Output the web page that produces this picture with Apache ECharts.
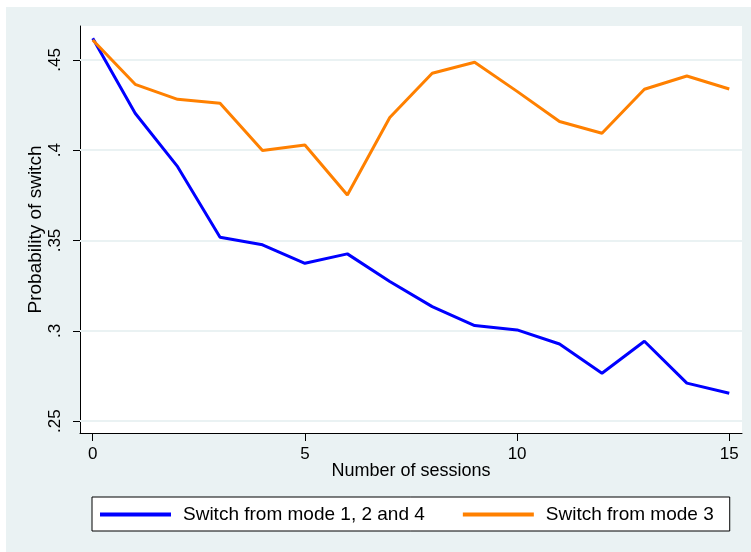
<!DOCTYPE html>
<html>
<head>
<meta charset="utf-8">
<script src="https://cdn.jsdelivr.net/npm/echarts@6/dist/echarts.min.js"></script>
<style>
  html, body { margin: 0; padding: 0; background: #fff; }
  #chart { width: 751px; height: 552px; }
</style>
</head>
<body>
<div id="chart"></div>
<script>
// sessions on the x axis
const sessions = [0, 1, 2, 3, 4, 5, 6, 7, 8, 9, 10, 11, 12, 13, 14, 15]
// probability of switch
const fromMode124 = [0.462, 0.4205, 0.3909, 0.3518, 0.3476, 0.3374, 0.3426, 0.3273,
  0.3134, 0.3029, 0.3005, 0.2927, 0.2765, 0.2942, 0.271, 0.2654]
const fromMode3 = [0.461, 0.4365, 0.4282, 0.426, 0.3998, 0.4029, 0.3752, 0.4181,
  0.4426, 0.4487, 0.4326, 0.4159, 0.4094, 0.4338, 0.4411, 0.4339]
const xTicks = [0, 5, 10, 15]
const yTicks = [0.25, 0.3, 0.35, 0.4, 0.45]

const font = 'Liberation Sans, Arial, sans-serif'
const bg = '#EAF2F3'

const pairs = (ys) => sessions.map((s, i) => [s, ys[i]])
const fmtY = (v) => String(Math.round(v * 100) / 100).replace(/^0/, '')

const chart = echarts.init(document.getElementById('chart'))

const options = {
  backgroundColor: bg,
  animation: false,
  textStyle: { fontFamily: font, color: '#000' },
  graphic: [
    // thin white margin on top and left
    { type: 'rect', left: 0, top: 0, shape: { width: 751, height: 7 }, style: { fill: '#fff' } },
    { type: 'rect', left: 0, top: 0, shape: { width: 6, height: 552 }, style: { fill: '#fff' } }
  ],
  grid: {
    left: 80,
    top: 26,
    right: 9,
    bottom: 119,
    show: true,
    backgroundColor: '#fff',
    borderWidth: 0
  },
  legend: {
    left: 92,
    top: 497,
    orient: 'horizontal',
    backgroundColor: '#fff',
    borderColor: '#000',
    borderWidth: 1,
    borderRadius: 0,
    padding: [8, 16, 7, 8],
    itemGap: 38,
    itemWidth: 71,
    itemHeight: 4,
    icon: 'rect',
    textStyle: { fontFamily: font, fontSize: 19, color: '#000', padding: [0, 0, 0, 7] },
    data: ['Switch from mode 1, 2 and 4', 'Switch from mode 3']
  },
  xAxis: {
    type: 'value',
    min: -0.3,
    max: 15.3,
    name: 'Number of sessions',
    nameLocation: 'middle',
    nameGap: 29,
    nameMoveOverlap: false,
    nameTextStyle: { fontFamily: font, fontSize: 18, color: '#000' },
    axisLine: { onZero: false, lineStyle: { color: '#000', width: 1 } },
    axisTick: { customValues: xTicks, length: 8, lineStyle: { color: '#000' } },
    axisLabel: { customValues: xTicks, fontFamily: font, fontSize: 17, color: '#000', margin: 13 },
    splitLine: { show: false }
  },
  yAxis: {
    type: 'value',
    min: 0.2434,
    max: 0.4688,
    name: 'Probability of switch',
    nameLocation: 'middle',
    nameRotate: 90,
    nameGap: 35,
    nameMoveOverlap: false,
    nameTextStyle: { fontFamily: font, fontSize: 19, color: '#000' },
    axisLine: { show: true, onZero: false, lineStyle: { color: '#000', width: 1 } },
    axisTick: { show: true, customValues: yTicks, length: 7, lineStyle: { color: '#000' } },
    axisLabel: {
      customValues: yTicks,
      rotate: 90,
      align: 'center',
      verticalAlign: 'bottom',
      fontFamily: font,
      fontSize: 17,
      color: '#000',
      margin: 16,
      formatter: fmtY
    },
    splitLine: { show: false }
  },
  series: [
    {
      // gridlines at the y ticks
      type: 'line',
      data: [],
      z: 1,
      silent: true,
      markLine: {
        silent: true,
        symbol: 'none',
        label: { show: false },
        lineStyle: { color: bg, width: 2, type: 'solid' },
        data: yTicks.map(v => ({ yAxis: v }))
      }
    },
    {
      name: 'Switch from mode 1, 2 and 4',
      type: 'line',
      data: pairs(fromMode124),
      showSymbol: false,
      symbol: 'none',
      zlevel: 1,
      z: 3,
      color: '#0000FF',
      lineStyle: { color: '#0000FF', width: 3 }
    },
    {
      name: 'Switch from mode 3',
      type: 'line',
      data: pairs(fromMode3),
      showSymbol: false,
      symbol: 'none',
      zlevel: 1,
      z: 3,
      color: '#FF8000',
      lineStyle: { color: '#FF8000', width: 3 }
    }
  ]
}

chart.setOption(options)
</script>
</body>
</html>
